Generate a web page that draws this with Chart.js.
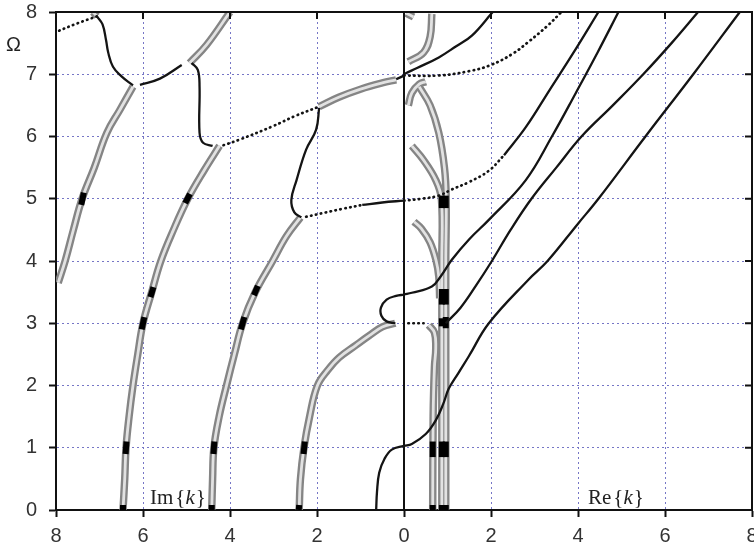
<!DOCTYPE html>
<html>
<head>
<meta charset="utf-8">
<script src="https://cdn.jsdelivr.net/npm/chart.js@4.4.1/dist/chart.umd.min.js"></script>
<style>
  html, body { margin: 0; padding: 0; background: #fff; }
</style>
</head>
<body>
<canvas id="chart" width="754" height="550"></canvas>
<script>
// ── axis ticks ───────────────────────────────────────────────
const kTicks = [-8, -6, -4, -2, 0, 2, 4, 6, 8];
const omegaTicks = [0, 1, 2, 3, 4, 5, 6, 7, 8];

// ── Im{k} branches, [Im k, Ω]  (drawn mirrored on the left half) ──
const imTubeL1 = [[7.95,3.65],[7.79,4.0],[7.6,4.5],[7.4,5.0],[7.12,5.5],[6.83,6.06],[6.53,6.43],[6.23,6.8]];
const imTubeA  = [[6.46,0],[6.42,0.5],[6.39,1.0],[6.32,1.5],[6.23,2.0],[6.12,2.5],[6.0,3.0],[5.8,3.5],[5.59,4.0],[5.3,4.5],[4.97,5.0],[4.6,5.45],[4.24,5.85]];
const imTubeB  = [[4.42,0],[4.40,0.5],[4.37,1.0],[4.25,1.5],[4.08,2.0],[3.9,2.5],[3.71,3.0],[3.42,3.5],[3.02,4.0],[2.7,4.4],[2.38,4.7]];
const imTubeC  = [[2.41,0],[2.38,0.5],[2.3,1.0],[2.17,1.5],[1.99,2.0],[1.75,2.25],[1.49,2.45],[1.1,2.65],[0.8,2.8],[0.5,2.94],[0.2,3.0]];
const imTubeTop = [[4.93,7.18],[4.54,7.47],[4.0,8.0]];
const imTubeNear7 = [[1.95,6.48],[1.5,6.63],[1.0,6.76],[0.5,6.86],[0.18,6.91]];
const imTubeCap = [[7.06,7.93],[7.15,8.0]];

const imSolidTop   = [[6.23,6.82],[6.5,6.97],[6.69,7.12],[6.8,7.35],[6.85,7.55],[6.93,7.8],[7.06,7.93]];
const imSolidMid   = [[6.07,6.83],[5.61,6.93],[5.11,7.15]];
const imSolidHook1 = [[4.88,7.18],[4.74,7.07],[4.7,6.8],[4.7,6.06],[4.62,5.9],[4.4,5.85]];
const imSolidHook2 = [[1.95,6.46],[2.02,6.11],[2.25,5.79],[2.47,5.3],[2.59,4.98],[2.52,4.78],[2.36,4.7]];
const imSolidLoop  = [[0.2,3.0],[0.4,3.03],[0.52,3.12],[0.53,3.25],[0.4,3.38],[0.18,3.44],[0,3.46]];
const imSolidLow   = [[0.64,0],[0.62,0.3],[0.57,0.6],[0.45,0.82],[0.28,0.97],[0,1.03]];
const imSolidNear7 = [[0.18,6.92],[0,6.98]];
const imSolidNear5 = [[0.96,4.9],[0.5,4.94],[0,4.97]];

const imDotTop = [[7.06,7.93],[7.5,7.82],[8.0,7.68]];
const imDotA   = [[4.15,5.86],[3.78,5.95],[3.0,6.17],[2.5,6.33],[1.95,6.48]];
const imDotB   = [[2.25,4.71],[1.8,4.78],[1.4,4.84],[0.96,4.9]];

const imMarks = [
  [[7.42,4.9],[7.36,5.1]], [[6.40,0.9],[6.38,1.1]], [[6.03,2.9],[5.97,3.1]],
  [[5.83,3.42],[5.76,3.58]], [[5.03,4.93],[4.92,5.08]], [[4.38,0.9],[4.36,1.1]],
  [[3.75,2.9],[3.67,3.1]], [[3.45,3.45],[3.36,3.6]], [[2.31,0.9],[2.28,1.1]],
  [[2.42,0],[2.41,0.08]], [[4.43,0],[4.42,0.08]], [[6.47,0],[6.46,0.08]]
];

// ── Re{k} branches, [Re k, Ω] ────────────────────────────────
const reSolidL1 = [[0,3.46],[0.18,3.49],[0.64,3.59],[0.85,3.76],[1.1,4.02],[1.5,4.35],[1.95,4.66],[2.8,5.3],[3.4,6.0],[3.95,6.7],[4.45,7.35],[4.93,8.0]];
const reSolidL2 = [[0.96,3.0],[1.3,3.25],[1.65,3.6],[2.02,4.0],[2.45,4.5],[2.93,5.0],[3.5,5.5],[4.08,6.0],[4.8,6.5],[5.5,7.0],[6.15,7.5],[6.76,8.0]];
const reSolidL3 = [[0,1.03],[0.18,1.06],[0.5,1.22],[0.73,1.44],[0.9,1.7],[1.03,1.95],[1.25,2.2],[1.49,2.47],[1.95,3.0],[2.86,3.7],[3.3,4.0],[4.0,4.6],[4.47,5.0],[5.55,6.0],[6.65,7.0],[7.72,8.0]];
const reSolidR1 = [[0,7.0],[0.3,7.1],[0.8,7.27],[1.2,7.45],[1.56,7.62],[2.04,8.0]];
const reSolidB5 = [[2.3,5.7],[2.8,6.15],[3.35,6.75],[3.9,7.35],[4.47,8.0]];
const reDotB5   = [[0,4.97],[0.4,5.0],[0.8,5.05],[1.1,5.15],[1.5,5.27],[1.95,5.45],[2.3,5.7]];
const reDotR2   = [[0,6.98],[0.8,6.98],[1.5,7.05],[2.0,7.15],[2.5,7.33],[2.86,7.52],[3.3,7.78],[3.62,8.0]];
const reDot3    = [[0.1,3.0],[0.45,3.0]];

const reTubeG1  = [[0.64,7.97],[0.6,7.6],[0.45,7.35],[0.1,7.2]];
const reTubeCap = [[0.05,7.98],[0.22,7.92]];
const reTubeG2  = [[0.1,6.5],[0.18,6.7],[0.35,6.84],[0.5,6.88]];
const reTubeG3  = [[0.35,6.8],[0.6,6.5],[0.8,6.06],[0.93,5.5],[0.97,5.0],[0.96,4.0],[0.96,3.0],[0.96,2.0],[0.96,1.0],[0.96,0]];
const reTubeG4  = [[0.18,5.85],[0.45,5.62],[0.73,5.3],[0.86,5.0],[0.87,4.0],[0.87,3.0],[0.87,2.0],[0.87,1.0],[0.87,0]];
const reTubeG5  = [[0.23,4.63],[0.4,4.52],[0.6,4.3],[0.74,4.0],[0.8,3.75],[0.82,3.4]];
const reTubeV1  = [[0.57,2.97],[0.7,2.85],[0.73,2.6],[0.7,2.3],[0.67,1.5],[0.66,0]];

const reMarks = [
  [[0.66,0.85],[0.66,1.1]], [[0.87,0.85],[0.87,1.1]], [[0.96,0.85],[0.96,1.1]],
  [[0.66,0],[0.66,0.08]], [[0.87,0],[0.87,0.08]], [[0.96,0],[0.96,0.08]],
  [[0.87,2.95],[0.87,3.08]], [[0.96,2.92],[0.96,3.1]], [[0.87,3.3],[0.87,3.55]],
  [[0.96,3.3],[0.96,3.55]], [[0.87,4.85],[0.87,5.05]], [[0.96,4.85],[0.96,5.05]]
];

// ── dataset helpers ──────────────────────────────────────────
// side = -1 puts an Im{k} branch on the mirrored left half
const toPts = (arr, side) => arr.map(p => ({ x: side * p[0], y: p[1] }));
const joined = (imPart, rePart) => toPts(imPart, -1).concat(toPts(rePart, 1));

const datasets = [];
const solid = (data) => datasets.push({
  data, showLine: true, pointRadius: 0, borderColor: "#141414",
  borderWidth: 2.3, tension: 0.4, order: 1,
});
const dotted = (data) => datasets.push({
  data, showLine: true, pointRadius: 0, borderColor: "#141414",
  borderWidth: 2.7, borderDash: [0.5, 4.5], borderCapStyle: "round", tension: 0.4, order: 1,
});
const tube = (data) => {
  datasets.push({ data, showLine: true, pointRadius: 0, borderColor: "#858585", borderWidth: 7.5, tension: 0.4, order: 5 });
  datasets.push({ data, showLine: true, pointRadius: 0, borderColor: "#e2e2e2", borderWidth: 2.8, tension: 0.4, order: 4 });
};
const mark = (data) => datasets.push({
  data, showLine: true, pointRadius: 0, borderColor: "#000", borderWidth: 6, order: 3,
});

[imTubeL1, imTubeA, imTubeB, imTubeC, imTubeTop, imTubeNear7, imTubeCap].forEach(a => tube(toPts(a, -1)));
[reTubeG1, reTubeCap, reTubeG2, reTubeG3, reTubeG4, reTubeG5, reTubeV1].forEach(a => tube(toPts(a, 1)));
imMarks.forEach(a => mark(toPts(a, -1)));
reMarks.forEach(a => mark(toPts(a, 1)));

[imSolidTop, imSolidMid, imSolidHook1, imSolidHook2].forEach(a => solid(toPts(a, -1)));
solid(joined(imSolidLoop, reSolidL1));
solid(joined(imSolidLow, reSolidL3));
solid(joined(imSolidNear7, reSolidR1));
solid(toPts(imSolidNear5, -1));
solid(toPts(reSolidL2, 1));
solid(toPts(reSolidB5, 1));
[imDotTop, imDotA, imDotB].forEach(a => dotted(toPts(a, -1)));
[reDotB5, reDotR2, reDot3].forEach(a => dotted(toPts(a, 1)));

// ── frame, centre line and in-plot labels ───────────────────
const framePlugin = {
  id: "frame",
  beforeDatasetsDraw(chart) {
    const { ctx, chartArea: a, scales: { x } } = chart;
    const x0 = x.getPixelForValue(0);
    ctx.save();
    ctx.strokeStyle = "#111";
    ctx.lineWidth = 2;
    ctx.beginPath();
    ctx.moveTo(x0, a.bottom);
    ctx.lineTo(x0, a.top);
    ctx.stroke();
    ctx.restore();
  },
  afterDatasetsDraw(chart) {
    const { ctx, chartArea: a, scales: { x, y } } = chart;
    ctx.save();
    ctx.strokeStyle = "#111";
    ctx.lineWidth = 2;
    ctx.beginPath();
    ctx.moveTo(a.left, a.top);
    ctx.lineTo(a.right, a.top);
    ctx.lineTo(a.right, a.bottom);
    kTicks.forEach(v => {
      const px = x.getPixelForValue(v);
      ctx.moveTo(px, a.top);
      ctx.lineTo(px, a.top + 7);
    });
    omegaTicks.forEach(v => {
      const py = y.getPixelForValue(v);
      ctx.moveTo(a.right, py);
      ctx.lineTo(a.right - 7, py);
    });
    ctx.stroke();

    ctx.fillStyle = "#222";
    ctx.textBaseline = "alphabetic";
    ctx.font = '20px "Liberation Sans", Arial, sans-serif';
    ctx.fillText("\u03a9", 6, 51);

    const braceLabel = (name, left, base) => {
      let cx = left;
      ctx.font = '21px "Liberation Serif", "Times New Roman", serif';
      ctx.fillText(name, cx, base);
      cx += ctx.measureText(name).width + 2;
      ctx.fillText("{", cx, base);
      cx += ctx.measureText("{").width;
      ctx.font = 'italic 21px "Liberation Serif", "Times New Roman", serif';
      ctx.fillText("k", cx, base);
      cx += ctx.measureText("k").width + 1;
      ctx.font = '21px "Liberation Serif", "Times New Roman", serif';
      ctx.fillText("}", cx, base);
    };
    braceLabel("Im", 150, 504);
    braceLabel("Re", 588, 504);
    ctx.restore();
  },
};

const tickFont = { family: '"Liberation Sans", Arial, sans-serif', size: 20 };
const gridOpts = {
  color: "#7676c6",
  lineWidth: 1,
  tickColor: "#111",
  tickWidth: 2,
  tickLength: 7,
};

new Chart(document.getElementById("chart"), {
  type: "scatter",
  data: { datasets },
  options: {
    responsive: false,
    animation: false,
    devicePixelRatio: 1,
    events: [],
    layout: { padding: { top: 12, right: 2, left: 0, bottom: 0 } },
    plugins: { legend: { display: false }, tooltip: { enabled: false } },
    scales: {
      x: {
        type: "linear",
        min: -8,
        max: 8,
        afterBuildTicks: (s) => { s.ticks = kTicks.map(v => ({ value: v })); },
        afterFit: (s) => { s.height = 40; s.paddingRight = 0; s.paddingLeft = 0; },
        ticks: { callback: (v) => Math.abs(v), color: "#333", font: tickFont, padding: 7, maxRotation: 0 },
        grid: gridOpts,
        border: { display: true, color: "#111", width: 2, dash: [2, 3] },
      },
      y: {
        type: "linear",
        min: 0,
        max: 8,
        afterBuildTicks: (s) => { s.ticks = omegaTicks.map(v => ({ value: v })); },
        afterFit: (s) => { s.width = 56; s.paddingTop = 0; s.paddingBottom = 0; },
        ticks: { color: "#333", font: tickFont, padding: 12 },
        grid: gridOpts,
        border: { display: true, color: "#111", width: 2, dash: [2, 3] },
      },
    },
  },
  plugins: [framePlugin],
});
</script>
</body>
</html>
